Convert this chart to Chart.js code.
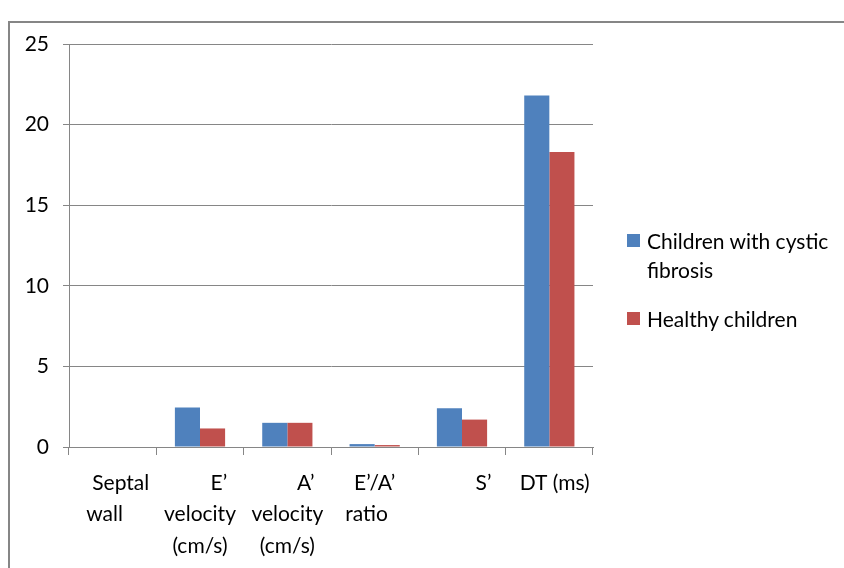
<!DOCTYPE html>
<html>
<head>
<meta charset="utf-8">
<script src="https://cdn.jsdelivr.net/npm/chart.js@4.4.1/dist/chart.umd.min.js"></script>
<style>
  html, body { margin: 0; padding: 0; background: #fff; overflow: hidden; }
  #wrap { position: relative; width: 844px; height: 568px; }
  #frame { position: absolute; left: 8px; top: 21px; width: 900px; height: 600px; border: 2px solid #868686; }
  canvas { position: absolute; left: 0; top: 0; }
  #legend { position: absolute; left: 627px; top: 226px; font-family: Lato, sans-serif; font-size: 21px; color: #000; line-height: 29px; }
  .item { position: relative; padding-left: 20px; margin-bottom: 20px; }
  .box { position: absolute; left: 0; top: 8px; width: 13px; height: 13px; }
</style>
</head>
<body>
<div id="wrap">
  <div id="frame"></div>
  <canvas id="chart" width="844" height="568"></canvas>
  <div id="legend">
    <div class="item"><span class="box" style="background:#4F81BD"></span>Children with cystic<br>fibrosis</div>
    <div class="item"><span class="box" style="background:#C0504D"></span>Healthy children</div>
  </div>
</div>
<script>
const chartFont = "Lato, sans-serif";
const sp = n => '\u00a0'.repeat(n);

// wrapped the way the original labels wrap (padding spaces included)
const categories = [
    [sp(3) + 'Septal', 'wall' + sp(3)],
    [sp(7) + 'E\u2019', 'velocity', '(cm/s)'],
    [sp(7) + 'A\u2019', 'velocity', '(cm/s)'],
    ['E\u2019/A\u2019', 'ratio' + sp(3)],
    [sp(8) + 'S\u2019'],
    [sp(2) + 'DT (ms)']
];
const cysticFibrosis = [0, 2.45, 1.5, 0.18, 2.4, 21.8];
const healthyChildren = [0, 1.15, 1.5, 0.12, 1.7, 18.3];
const yTicks = [0, 5, 10, 15, 20, 25];

const ctx = document.getElementById('chart').getContext('2d');
new Chart(ctx, {
    type: 'bar',
    data: {
        labels: categories,
        datasets: [{
            label: 'Children with cystic fibrosis',
            data: cysticFibrosis,
            backgroundColor: '#4F81BD',
            categoryPercentage: 0.575,
            barPercentage: 1
        }, {
            label: 'Healthy children',
            data: healthyChildren,
            backgroundColor: '#C0504D',
            categoryPercentage: 0.575,
            barPercentage: 1
        }]
    },
    options: {
        responsive: false,
        animation: false,
        layout: { padding: { left: 10, right: 251, top: 44, bottom: 0 } },
        scales: {
            y: {
                min: 0,
                max: 25,
                afterFit: function (s) { s.width = 59; },
                afterBuildTicks: function (s) { s.ticks = yTicks.map(v => ({ value: v })); },
                grid: { color: '#868686', tickLength: 6, lineWidth: 1 },
                border: { color: '#868686' },
                ticks: {
                    padding: 14,
                    color: '#000',
                    font: { family: chartFont, size: 21 }
                }
            },
            x: {
                afterFit: function (s) { s.height = 121; },
                grid: { drawOnChartArea: false, color: '#868686', tickLength: 8 },
                border: { color: '#868686' },
                ticks: {
                    padding: 12,
                    maxRotation: 0,
                    autoSkip: false,
                    color: '#000',
                    font: { family: chartFont, size: 21, lineHeight: 1.5 }
                }
            }
        },
        plugins: {
            legend: { display: false },
            tooltip: { enabled: false }
        }
    }
});
</script>
</body>
</html>
